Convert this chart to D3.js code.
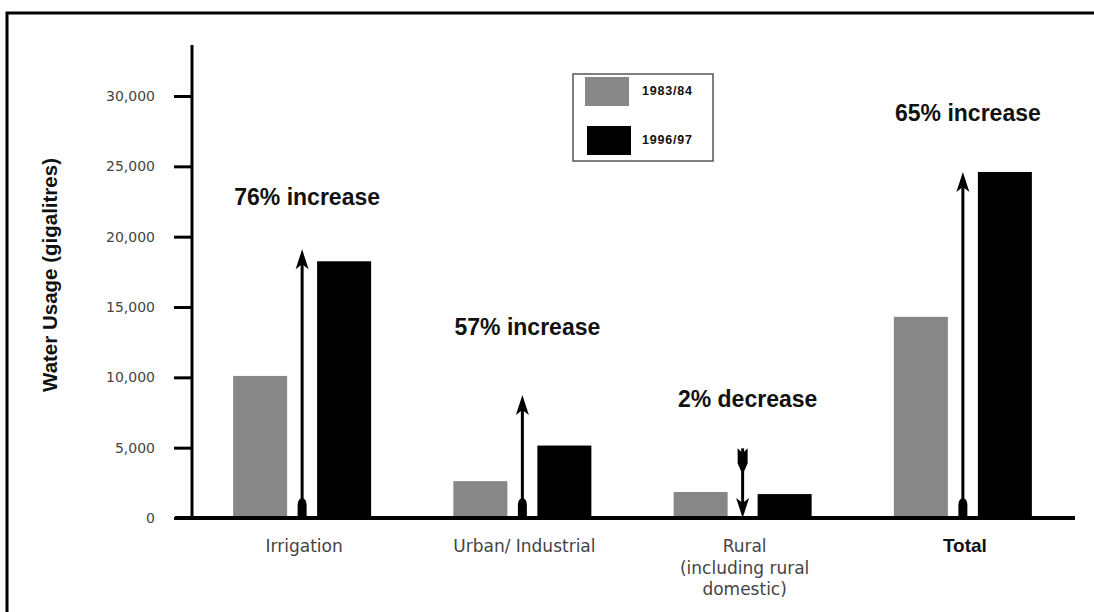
<!DOCTYPE html>
<html>
<head>
<meta charset="utf-8">
<script src="https://cdn.jsdelivr.net/npm/d3@7"></script>
<style>
  html, body { margin: 0; padding: 0; background: #fff; }
  svg { display: block; }
</style>
</head>
<body>
<svg id="chart" width="1094" height="612"></svg>
<script>
// Water usage by sector, gigalitres
const categories = ["Irrigation", "Urban/ Industrial", "Rural", "Total"];
const categoryLines = [["Irrigation"], ["Urban/ Industrial"], ["Rural", "(including rural", "domestic)"], ["Total"]];
const seriesNames = ["1983/84", "1996/97"];
const usage8384 = [10100, 2620, 1850, 14300];
const usage9697 = [18250, 5150, 1700, 24600];
// change arrows: start and end level (gigalitres)
const arrowFrom = [0, 0, 4950, 0];
const arrowTo = [19100, 8750, 0, 24600];
// change notes and the level they sit at (gigalitres)
const changeNotes = ["76% increase", "57% increase", "2% decrease", "65% increase"];
const noteLevel = [22250, 13000, 7900, 28200];
const yTicks = [0, 5000, 10000, 15000, 20000, 25000, 30000];

const svg = d3.select("#chart");
const GREY = "#878787";
const colors = d3.scaleOrdinal().domain(seriesNames).range([GREY, "#000"]);

// outer frame
svg.append("rect")
  .attr("x", 7).attr("y", 13).attr("width", 1120).attr("height", 640)
  .attr("fill", "none").attr("stroke", "#000").attr("stroke-width", 3);

const y = d3.scaleLinear().domain([0, 30000]).range([518, 96]);
const x = d3.scaleBand().domain(categories).range([192, 1073]).padding(0);
const xInner = d3.scaleBand().domain(seriesNames).range([-69, 69]).paddingInner(0.357).paddingOuter(0);

// y axis
const yAxis = d3.axisLeft(y).tickValues(yTicks).tickFormat(d3.format(",")).tickSize(18).tickPadding(19);
const gy = svg.append("g").attr("transform", "translate(192,0)").call(yAxis);
gy.select(".domain").remove();
gy.selectAll(".tick line").attr("stroke", "#000").attr("stroke-width", 3);
gy.selectAll(".tick text")
  .attr("font-family", "DejaVu Sans, sans-serif")
  .attr("font-size", 14).attr("fill", "#444");
svg.append("line")
  .attr("x1", 192).attr("x2", 192).attr("y1", 45).attr("y2", y(0))
  .attr("stroke", "#000").attr("stroke-width", 3);

// y axis title
svg.append("text")
  .attr("transform", "translate(57,275) rotate(-90)")
  .attr("text-anchor", "middle")
  .attr("font-family", "Liberation Sans, Arial, sans-serif")
  .attr("font-weight", "bold").attr("font-size", 20.5).attr("fill", "#111")
  .text("Water Usage (gigalitres)");

// bars
const rows = categories.map((c, i) => ({ c, vals: [usage8384[i], usage9697[i]] }));
const groups = svg.append("g").selectAll("g").data(rows).join("g")
  .attr("transform", d => `translate(${x(d.c) + x.bandwidth() / 2},0)`);
groups.selectAll("rect").data(d => d.vals.map((v, k) => ({ s: seriesNames[k], v }))).join("rect")
  .attr("x", d => xInner(d.s))
  .attr("width", xInner.bandwidth())
  .attr("y", d => y(d.v))
  .attr("height", d => y(0) - y(d.v))
  .attr("fill", d => colors(d.s));

// x axis baseline
svg.append("line")
  .attr("x1", 175).attr("x2", 1075).attr("y1", y(0)).attr("y2", y(0))
  .attr("stroke", "#000").attr("stroke-width", 4);

// change arrows
categories.forEach((c, i) => {
  const cx = x(c) + x.bandwidth() / 2;
  const y0 = y(arrowFrom[i]), y1 = y(arrowTo[i]);
  const dir = y1 < y0 ? -1 : 1; // -1 pointing up
  const g = svg.append("g");
  g.append("line")
    .attr("x1", cx).attr("x2", cx).attr("y1", y0).attr("y2", y1 - dir * 8)
    .attr("stroke", "#000").attr("stroke-width", 3);
  // head
  const hl = 20, hw = 6.5, notch = 5;
  g.append("path")
    .attr("d", `M${cx},${y1} L${cx + hw},${y1 - dir * hl} L${cx},${y1 - dir * (hl - notch)} L${cx - hw},${y1 - dir * hl} Z`)
    .attr("fill", "#000");
  // tail
  if (dir < 0) {
    g.append("path")
      .attr("d", `M${cx - 4.5},${y0} L${cx - 4.5},${y0 - 13} Q${cx - 4.5},${y0 - 19} ${cx},${y0 - 20} Q${cx + 4.5},${y0 - 19} ${cx + 4.5},${y0 - 13} L${cx + 4.5},${y0} Z`)
      .attr("fill", "#000");
  } else {
    g.append("path")
      .attr("d", `M${cx - 5},${y0} L${cx},${y0 + 5} L${cx + 5},${y0} L${cx + 5},${y0 + 15} L${cx + 1.5},${y0 + 23} L${cx - 1.5},${y0 + 23} L${cx - 5},${y0 + 15} Z`)
      .attr("fill", "#000");
  }
});

// change notes
svg.append("g").selectAll("text").data(categories).join("text")
  .attr("x", c => x(c) + x.bandwidth() / 2 + 5)
  .attr("y", (c, i) => y(noteLevel[i]))
  .attr("text-anchor", "middle")
  .attr("font-family", "Liberation Sans, Arial, sans-serif")
  .attr("font-weight", "bold").attr("font-size", 23).attr("fill", "#111")
  .text((c, i) => changeNotes[i]);

// category labels
const lab = svg.append("g").selectAll("text").data(categories).join("text")
  .attr("x", c => x(c) + x.bandwidth() / 2 + 2)
  .attr("y", 552)
  .attr("text-anchor", "middle")
  .attr("font-family", (c, i) => i === 3 ? "Liberation Sans, Arial, sans-serif" : "DejaVu Sans, sans-serif")
  .attr("font-weight", (c, i) => i === 3 ? "bold" : "normal")
  .attr("font-size", (c, i) => i === 3 ? 19 : 17)
  .attr("fill", (c, i) => i === 3 ? "#111" : "#444");
lab.selectAll("tspan").data((c, i) => categoryLines[i]).join("tspan")
  .attr("x", function () { return this.parentNode.getAttribute("x"); })
  .attr("dy", (d, k) => k === 0 ? 0 : 21.5)
  .text(d => d);

// legend
const lg = svg.append("g");
lg.append("rect").attr("x", 573).attr("y", 74).attr("width", 140).attr("height", 87)
  .attr("fill", "#fff").attr("stroke", "#555").attr("stroke-width", 1.5);
seriesNames.forEach((s, k) => {
  lg.append("rect").attr("x", 585 + k * 2).attr("y", 77 + k * 49).attr("width", 44).attr("height", 29)
    .attr("fill", colors(s));
  lg.append("text").attr("x", 642).attr("y", 95 + k * 49)
    .attr("font-family", "Liberation Sans, Arial, sans-serif")
    .attr("font-weight", "bold").attr("font-size", 12.5).attr("letter-spacing", 0.8).attr("fill", "#111")
    .text(s);
});
</script>
</body>
</html>
